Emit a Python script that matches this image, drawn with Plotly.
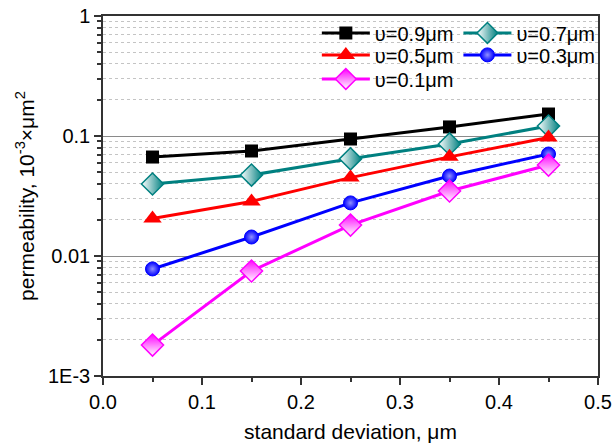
import plotly.graph_objects as go

# data
std_dev = [0.05, 0.15, 0.25, 0.35, 0.45]
perm_09 = [0.0668, 0.075, 0.0944, 0.119, 0.1525]
perm_07 = [0.0398, 0.0473, 0.0645, 0.0858, 0.121]
perm_05 = [0.0205, 0.0285, 0.045, 0.067, 0.097]
perm_03 = [0.0078, 0.0144, 0.0277, 0.0464, 0.0708]
perm_01 = [0.00181, 0.0075, 0.0181, 0.0348, 0.0573]

y_tickvals = [0.001, 0.01, 0.1, 1]
y_ticktext = ["1E-3", "0.01", "0.1", "1"]

FONT = "Liberation Sans, Arial, sans-serif"

fig = go.Figure()

fig.add_trace(go.Scatter(
    x=std_dev, y=perm_09, name="υ=0.9μm", mode="lines+markers", legend="legend",
    showlegend=True,
    line=dict(color="black", width=3),
    marker=dict(symbol="square", size=13, color="black")))
fig.add_trace(go.Scatter(
    x=std_dev, y=perm_07, name="υ=0.7μm", mode="lines+markers", legend="legend2",
    showlegend=True,
    line=dict(color="#008080", width=3),
    marker=dict(symbol="diamond", size=17, color="white",
                gradient=dict(type="horizontal", color="#008080"),
                line=dict(color="#008080", width=1.5))))
fig.add_trace(go.Scatter(
    x=std_dev, y=perm_05, name="υ=0.5μm", mode="lines+markers", legend="legend3",
    showlegend=True,
    line=dict(color="#ff0000", width=3),
    marker=dict(symbol="triangle-up", size=16, color="#ff0000")))
fig.add_trace(go.Scatter(
    x=std_dev, y=perm_03, name="υ=0.3μm", mode="lines+markers", legend="legend4",
    showlegend=True,
    line=dict(color="#0000ff", width=3),
    marker=dict(symbol="circle", size=14, color="#0000ff",
                gradient=dict(type="radial", color="#9090ff"),
                line=dict(color="#0000ff", width=1))))
fig.add_trace(go.Scatter(
    x=std_dev, y=perm_01, name="υ=0.1μm", mode="lines+markers", legend="legend5",
    showlegend=True,
    line=dict(color="#ff00ff", width=3),
    marker=dict(symbol="diamond", size=17, color="#ff00ff",
                gradient=dict(type="vertical", color="white"),
                line=dict(color="#ff00ff", width=1.5))))

minor_y = [m * 10 ** e for e in (-3, -2, -1) for m in range(2, 10)]

fig.update_yaxes(
    type="log", range=[-3, 0], automargin=False,
    tickmode="array", tickvals=y_tickvals, ticktext=y_ticktext,
    ticks="outside", ticklen=7, tickwidth=1.5, tickcolor="#333",
    showgrid=True, gridcolor="#8a8a8a", gridwidth=1,
    minor=dict(tickmode="array", tickvals=minor_y, ticks="outside", ticklen=4,
               tickcolor="#333", showgrid=True, gridcolor="#c4c4c4", griddash="dot", gridwidth=1),
    showline=True, linecolor="#333", linewidth=1.5, mirror=True, zeroline=False,
    tickfont=dict(size=20, color="black", family=FONT),
    title=dict(text="permeability, 10<sup>-3</sup>×μm<sup>2</sup>",
               font=dict(size=21, color="black", family=FONT), standoff=8),
)
fig.update_xaxes(
    range=[0, 0.5], dtick=0.1, tick0=0, tickformat=".1f", automargin=False,
    ticks="outside", ticklen=7, tickwidth=1.5, tickcolor="#333",
    minor=dict(dtick=0.05, ticks="outside", ticklen=4, tickcolor="#333", showgrid=False),
    showgrid=False, showline=True, linecolor="#333", linewidth=1.5, mirror=True, zeroline=False,
    tickfont=dict(size=20, color="black", family=FONT),
    title=dict(text="standard deviation, μm", font=dict(size=21, color="black", family=FONT), standoff=13),
)

fig.add_shape(type="rect", xref="paper", yref="paper", x0=0.378, x1=1, y0=0.789, y1=1,
              fillcolor="white", line=dict(width=0), layer="between")

def leg(x, y):
    return dict(bgcolor="rgba(0,0,0,0)", borderwidth=0, itemwidth=48,
                font=dict(size=20, color="black", family=FONT),
                yanchor="middle", y=y, xanchor="left", x=x)

col1, col2 = 0.432, 0.718
row1, row2, row3 = 0.953, 0.892, 0.825
fig.update_layout(
    width=613, height=447,
    margin=dict(l=103, r=15, t=16, b=71),
    paper_bgcolor="white", plot_bgcolor="white",
    font=dict(family=FONT, color="black"),
    showlegend=True,
    legend=leg(col1, row1),
    legend2=leg(col2, row1),
    legend3=leg(col1, row2),
    legend4=leg(col2, row2),
    legend5=leg(col1, row3),
)

fig.write_html("out.html")
